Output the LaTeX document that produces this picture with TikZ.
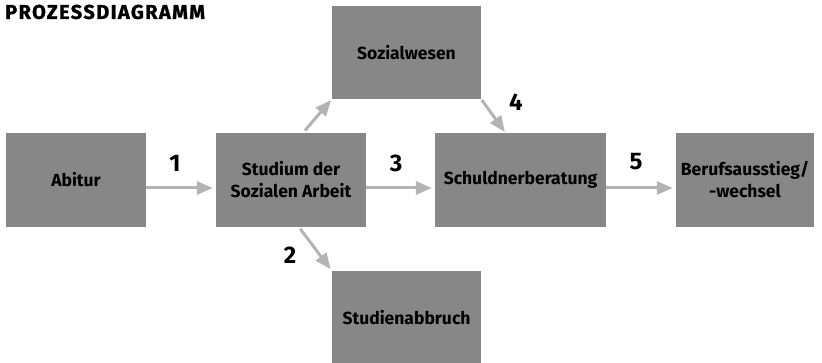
\documentclass[tikz,border=0pt]{standalone}
\usepackage{fontspec}
\setmainfont{Fira Sans}
\newfontfamily\titlefont[LetterSpace=7,FakeBold=1.2]{Fira Sans}
\usetikzlibrary{arrows.meta}
\definecolor{boxgray}{HTML}{878787}
\definecolor{arrgray}{HTML}{B3B3B3}
\tikzset{
  procbox/.style={fill=boxgray, draw=none, inner sep=0pt, align=center,
    font=\fontsize{17.5}{22}\selectfont\bfseries},
  flow/.style={draw=arrgray, line width=3pt,
    -{Triangle[length=16pt,width=13pt]}},
  numlabel/.style={font=\fontsize{24}{24}\selectfont\bfseries, inner sep=0pt}
}
\begin{document}
\begin{tikzpicture}[x=1pt,y=-1pt]
\useasboundingbox (0,0) rectangle (822,363);
\node[anchor=north west, inner sep=0pt, font=\titlefont\fontsize{20}{20}\selectfont\bfseries] (title) at (5,4.5) {PROZESSDIAGRAMM};

\node[procbox, minimum width=140pt, minimum height=94pt] (abitur) at (76,180) {Abitur};
\node[procbox, minimum width=150pt, minimum height=94pt] (studium) at (291,180) {Studium der\\Sozialen Arbeit};
\node[procbox, minimum width=149pt, minimum height=93pt] (sozial) at (406.5,52.5) {Sozialwesen};
\node[procbox, minimum width=149pt, minimum height=93pt] (abbruch) at (406.5,317.5) {Studienabbruch};
\node[procbox, minimum width=171pt, minimum height=94pt] (schuldner) at (520.5,180) {Schuldnerberatung};
\node[procbox, minimum width=138pt, minimum height=94pt] (beruf) at (745,180) {Berufsausstieg/\\-wechsel};

\draw[flow, shorten >=3pt] ([yshift=-8pt]abitur.east) -- ([yshift=-8pt]studium.west);
\draw[flow, shorten >=3pt] ([yshift=-8pt]studium.east) -- ([yshift=-8pt]schuldner.west);
\draw[flow, shorten >=3pt] ([yshift=-8pt]schuldner.east) -- ([yshift=-8pt]beruf.west);
\draw[flow, shorten <=3pt, shorten >=1pt] ([xshift=12pt]studium.north) -- (sozial.south west);
\draw[flow, shorten <=1pt, shorten >=1pt] (sozial.south east) -- ([xshift=-15pt]schuldner.north);
\draw[flow, shorten <=2pt, shorten >=2pt] ([xshift=8pt]studium.south) -- (abbruch.north west);

\node[numlabel] (n1) at (175,163) {1};
\node[numlabel] (n2) at (290,255) {2};
\node[numlabel] (n3) at (396,163) {3};
\node[numlabel] (n4) at (516,102) {4};
\node[numlabel] (n5) at (636,162) {5};
\end{tikzpicture}
\end{document}
